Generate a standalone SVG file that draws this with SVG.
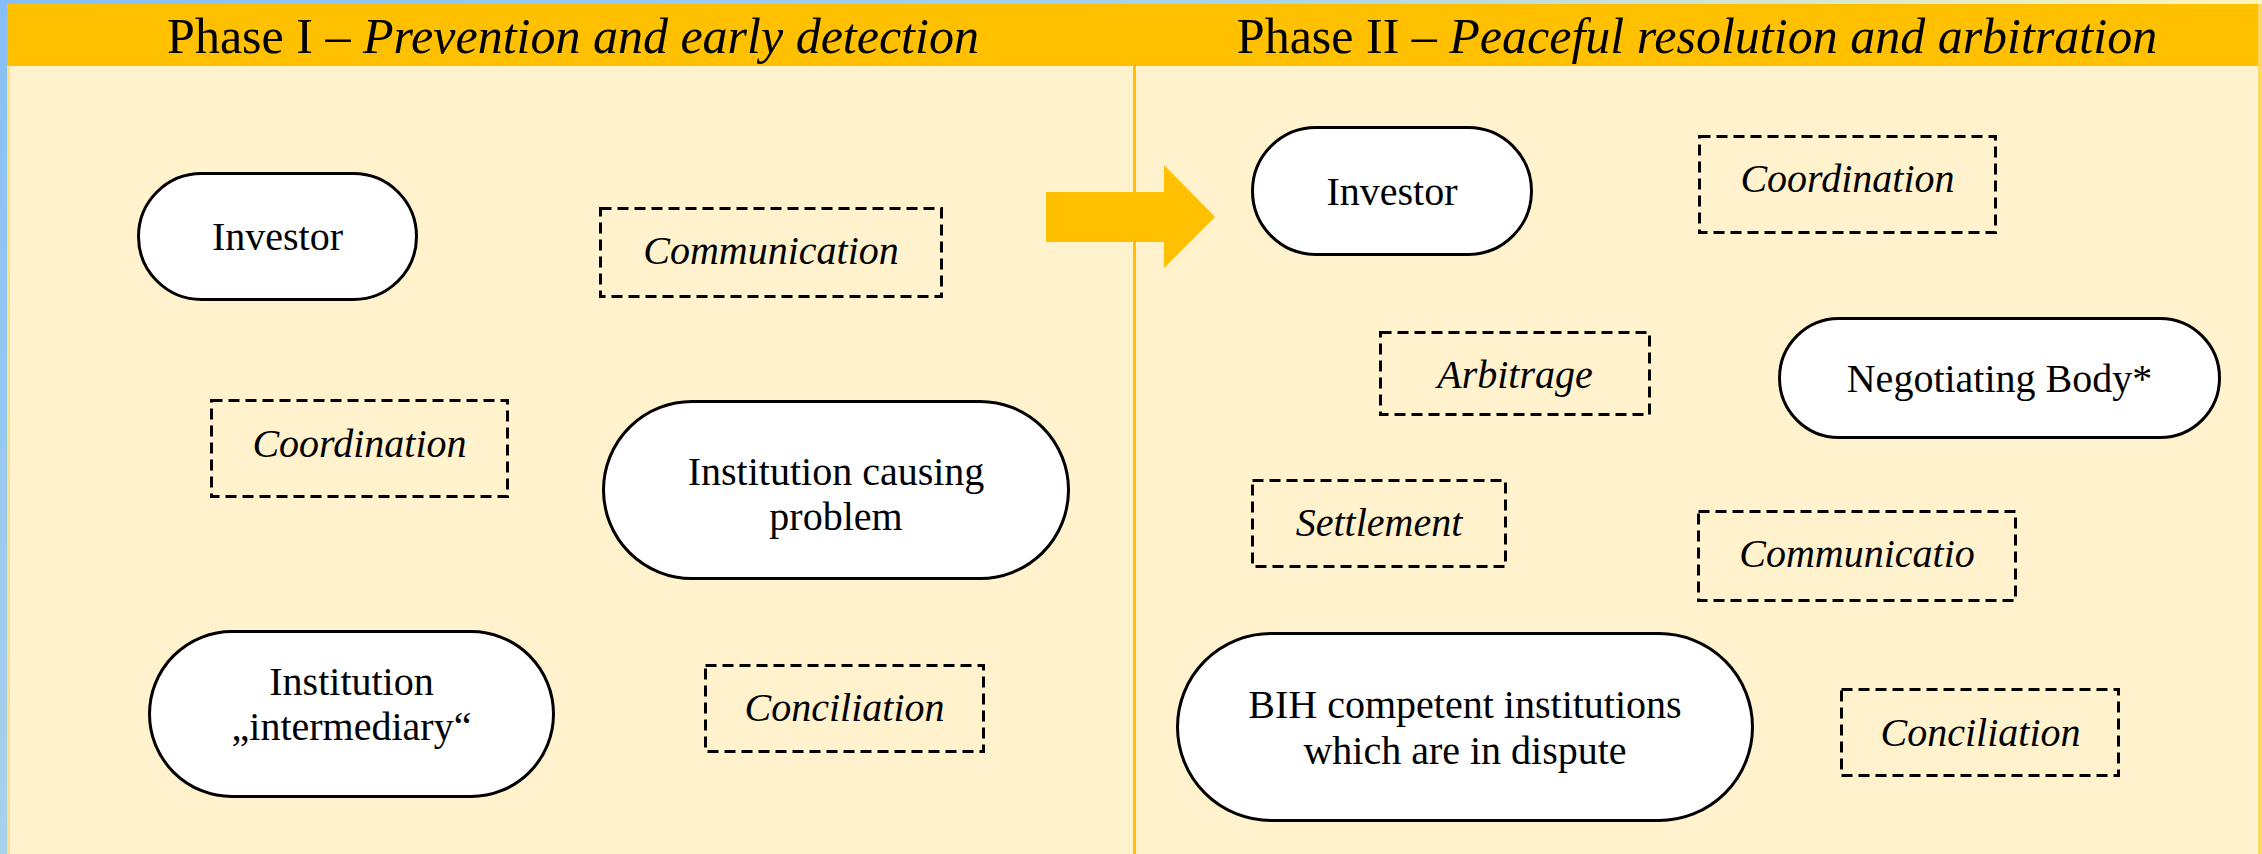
<svg xmlns="http://www.w3.org/2000/svg" width="2262" height="854" viewBox="0 0 2262 854">
  <defs>
    <linearGradient id="topEdge" x1="0" y1="0" x2="1" y2="0">
      <stop offset="0" stop-color="#86BEF6"/>
      <stop offset="0.55" stop-color="#A9D4EC"/>
      <stop offset="1" stop-color="#FFF6B8"/>
    </linearGradient>
    <linearGradient id="leftEdge" x1="0" y1="0" x2="0" y2="1">
      <stop offset="0" stop-color="#86BEF6"/>
      <stop offset="1" stop-color="#A8D2EA"/>
    </linearGradient>
    <style>
      .pill { fill: #FFFFFF; stroke: #000000; stroke-width: 3; }
      .box { fill: none; stroke: #000000; stroke-width: 3; stroke-dasharray: 11 6; }
      .label { font-family: "Liberation Serif", "Times New Roman", serif; font-size: 40px; fill: #000000; text-anchor: middle; }
      .act { font-style: italic; }
      .head { font-family: "Liberation Serif", "Times New Roman", serif; font-size: 50px; fill: #000000; text-anchor: middle; }
    </style>
  </defs>

  <!-- background panels -->
  <rect x="0" y="0" width="2262" height="854" fill="#FFF2CC"/>
  <rect x="0" y="0" width="2262" height="4" fill="url(#topEdge)"/>
  <rect x="0" y="0" width="7" height="854" fill="url(#leftEdge)"/>
  <rect x="7" y="4" width="3" height="850" fill="#FFE08A"/>
  <rect x="2258" y="4" width="4" height="850" fill="#FFD966"/>
  <rect x="7" y="4" width="2251" height="62" fill="#FFC000"/>
  <rect x="1133" y="66" width="3" height="788" fill="#FFC000"/>

  <!-- phase headings -->
  <text class="head" x="573" y="53">Phase I – <tspan font-style="italic">Prevention and early detection</tspan></text>
  <text class="head" x="1697" y="53">Phase II – <tspan font-style="italic">Peaceful resolution and arbitration</tspan></text>

  <!-- transition arrow between phases -->
  <g id="connectors">
    <polygon points="1046,192 1164,192 1164,165 1215,217 1164,268 1164,242 1046,242" fill="#FFC000"/>
  </g>

  <!-- Phase I -->
  <g id="p1-investor">
    <rect class="pill" x="138.5" y="173.5" width="278" height="126" rx="63" ry="63"/>
    <text class="label" x="277.5" y="250">Investor</text>
  </g>
  <g id="p1-communication">
    <rect class="box" x="600.5" y="208.5" width="341" height="88"/>
    <text class="label act" x="771" y="264">Communication</text>
  </g>
  <g id="p1-coordination">
    <rect class="box" x="211.5" y="400.5" width="296" height="96"/>
    <text class="label act" x="359.5" y="457">Coordination</text>
  </g>
  <g id="p1-institution-causing">
    <rect class="pill" x="603.5" y="401.5" width="465" height="177" rx="88.5" ry="88.5"/>
    <text class="label" x="836" y="485">Institution causing</text>
    <text class="label" x="836" y="530">problem</text>
  </g>
  <g id="p1-institution-intermediary">
    <rect class="pill" x="149.5" y="631.5" width="404" height="165" rx="82.5" ry="82.5"/>
    <text class="label" x="351.5" y="695">Institution</text>
    <text class="label" x="351.5" y="740">„intermediary“</text>
  </g>
  <g id="p1-conciliation">
    <rect class="box" x="705.5" y="665.5" width="278" height="86"/>
    <text class="label act" x="844.5" y="721">Conciliation</text>
  </g>

  <!-- Phase II -->
  <g id="p2-investor">
    <rect class="pill" x="1252.5" y="127.5" width="279" height="127" rx="63.5" ry="63.5"/>
    <text class="label" x="1392" y="205">Investor</text>
  </g>
  <g id="p2-coordination">
    <rect class="box" x="1699.5" y="136.5" width="296" height="96"/>
    <text class="label act" x="1847.5" y="192">Coordination</text>
  </g>
  <g id="p2-arbitrage">
    <rect class="box" x="1380.5" y="332.5" width="269" height="82"/>
    <text class="label act" x="1515" y="388">Arbitrage</text>
  </g>
  <g id="p2-negotiating-body">
    <rect class="pill" x="1779.5" y="318.5" width="440" height="119" rx="59.5" ry="59.5"/>
    <text class="label" x="1999.5" y="392">Negotiating Body*</text>
  </g>
  <g id="p2-settlement">
    <rect class="box" x="1252.5" y="480.5" width="253" height="86"/>
    <text class="label act" x="1379" y="536">Settlement</text>
  </g>
  <g id="p2-communicatio">
    <rect class="box" x="1698.5" y="511.5" width="317" height="89"/>
    <text class="label act" x="1857" y="567">Communicatio</text>
  </g>
  <g id="p2-bih-institutions">
    <rect class="pill" x="1177.5" y="633.5" width="575" height="187" rx="93.5" ry="93.5"/>
    <text class="label" x="1465" y="718">BIH competent institutions</text>
    <text class="label" x="1465" y="764">which are in dispute</text>
  </g>
  <g id="p2-conciliation">
    <rect class="box" x="1841.5" y="689.5" width="277" height="86"/>
    <text class="label act" x="1980.5" y="746">Conciliation</text>
  </g>
</svg>
